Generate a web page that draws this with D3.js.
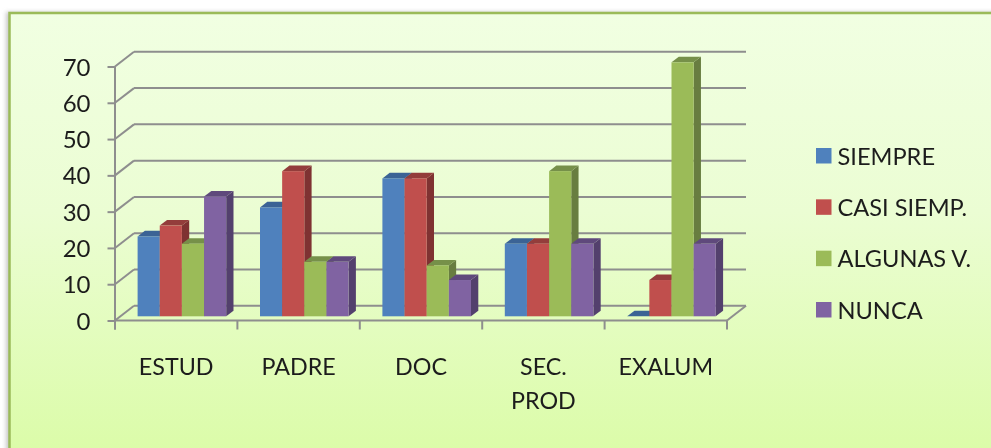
<!DOCTYPE html>
<html><head><meta charset="utf-8">
<script src="https://cdn.jsdelivr.net/npm/d3@7"></script>
<style>html,body{margin:0;padding:0;background:#fff}svg{display:block}text{font-family:Lato,"Open Sans",sans-serif;fill:#1c1c1c}</style>
</head><body><svg id="c" width="991" height="448"></svg>
<script>
const categories=[["ESTUD"],["PADRE"],["DOC"],["SEC.","PROD"],["EXALUM"]];
const seriesNames=["SIEMPRE","CASI SIEMP.","ALGUNAS V.","NUNCA"];
const siempre=[22,30,38,20,0];
const casiSiempre=[25,40,38,20,10];
const algunasV=[20,15,14,40,70];
const nunca=[33,15,10,20,20];
const yTicks=[0,10,20,30,40,50,60,70];
const seriesValues=[siempre,casiSiempre,algunasV,nunca];
const fronts=["#4f81bd","#c0504d","#9bbb59","#8064a2"];
const tops=["#3a6395","#933c3a","#76904a","#5f4a7c"];
const sides=["#335783","#7f3331","#677d3f","#53406d"];
const gridColor="#8e8e8e";

const svg=d3.select("#c");
const defs=svg.append("defs");
const bg=defs.append("linearGradient").attr("id","bg").attr("x1",0).attr("y1",0).attr("x2",0).attr("y2",1);
bg.append("stop").attr("offset",0).attr("stop-color","#f1ffe2");
bg.append("stop").attr("offset",0.45).attr("stop-color","#ebfdd3");
bg.append("stop").attr("offset",1).attr("stop-color","#dbfca8");
defs.append("filter").attr("id","soft").append("feGaussianBlur").attr("stdDeviation",0.45);
defs.append("filter").attr("id","sh").attr("x","-5%").attr("y","-5%").attr("width","110%").attr("height","110%").append("feGaussianBlur").attr("stdDeviation",2);

svg.append("rect").attr("x",6).attr("y",12).attr("width",1000).attr("height",460).attr("fill","#c8c8c8").attr("filter","url(#sh)");
svg.append("rect").attr("x",9.5).attr("y",13).attr("width",1000).attr("height",442).attr("fill","url(#bg)").attr("stroke","#9bbb59").attr("stroke-width",2.5);

const root=svg.append("g").attr("filter","url(#soft)");
const left=115,right=727,dx=19,dy=14.7;
const y=d3.scaleLinear().domain([0,70]).range([320.5,66.5]);
const x=d3.scaleBand().domain(d3.range(categories.length)).range([left,right]);
const bandGap=22.6,barDepthX=7.3,barDepthY=5.6,baseUp=4.2;
const inner=d3.scaleBand().domain(d3.range(seriesNames.length)).range([bandGap,x.bandwidth()-bandGap+11.4]);

const line=(g,x1,y1,x2,y2)=>g.append("line").attr("x1",x1).attr("y1",y1).attr("x2",x2).attr("y2",y2).attr("stroke",gridColor).attr("stroke-width",2);
const grid=root.append("g");
yTicks.forEach(t=>{
  line(grid,left,y(t),left+dx,y(t)-dy);
  line(grid,left+dx,y(t)-dy,right+dx,y(t)-dy);
});
line(grid,right,y(0),right+dx,y(0)-dy);

const axisY=root.append("g").attr("transform",`translate(${left},0)`)
  .call(d3.axisLeft(y).tickValues(yTicks).tickSize(7.5).tickPadding(17));
axisY.selectAll("path").attr("stroke",gridColor).attr("stroke-width",2).attr("d",`M0,${y(70)}V${y(0)+9}`);
axisY.selectAll("line").attr("stroke",gridColor).attr("stroke-width",2);
axisY.selectAll("text").attr("font-size",24).attr("font-family","Lato").attr("fill","#1c1c1c").attr("dy","0.36em");

const xEdges=d3.range(categories.length+1).map(i=>i<categories.length?x(i):right);
const axisX=root.append("g");
line(axisX,left,y(0),right,y(0));
xEdges.forEach(e=>line(axisX,e,y(0),e,y(0)+9));

const bars=root.append("g");
categories.forEach((c,ci)=>{
  seriesValues.forEach((vals,si)=>{
    const x0=x(ci)+inner(si),w=inner.bandwidth(),v=vals[ci];
    const base=y(0)-baseUp,top=base-(y(0)-y(v));
    const g=bars.append("g");
    g.append("polygon").attr("fill",sides[si]).attr("points",[[x0+w,top],[x0+w+barDepthX,top-barDepthY],[x0+w+barDepthX,base-barDepthY],[x0+w,base]].join(" "));
    g.append("polygon").attr("fill",tops[si]).attr("points",[[x0,top],[x0+barDepthX,top-barDepthY],[x0+w+barDepthX,top-barDepthY],[x0+w,top]].join(" "));
    if(v>0) g.append("rect").attr("x",x0).attr("y",top).attr("width",w).attr("height",base-top).attr("fill",fronts[si]);
  });
});

const xl=root.append("g").attr("text-anchor","middle").attr("font-size",23.3);
categories.forEach((c,ci)=>{
  c.forEach((s,li)=>xl.append("text").attr("x",x(ci)+x.bandwidth()/2).attr("y",375+li*34).text(s));
});

const legendY=d3.scalePoint().domain(seriesNames).range([156,310]);
const lg=root.append("g");
seriesNames.forEach((s,i)=>{
  lg.append("rect").attr("x",816).attr("y",legendY(s)-8).attr("width",15.5).attr("height",15.5).attr("fill",fronts[i]);
  lg.append("text").attr("x",837.5).attr("y",legendY(s)+8.5).attr("font-size",23.6).text(s);
});
</script></body></html>
